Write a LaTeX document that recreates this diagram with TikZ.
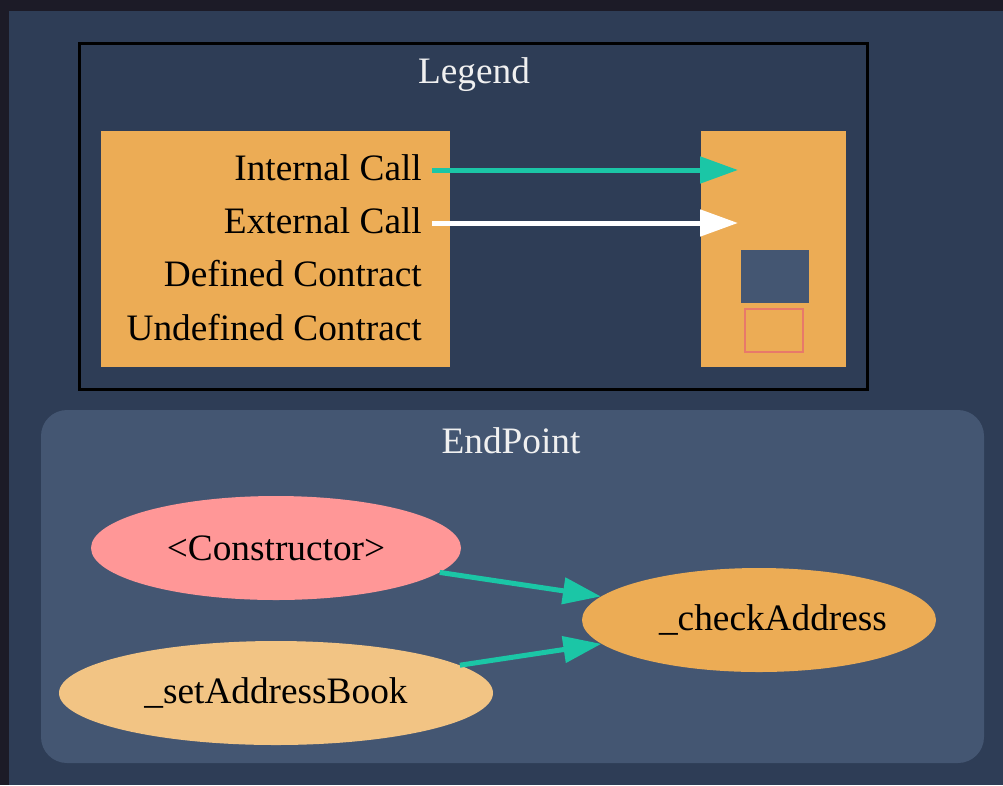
\documentclass[tikz,border=0pt]{standalone}
\usepackage{fontspec}
\setmainfont{Liberation Serif}
\usetikzlibrary{arrows.meta,shapes.geometric}
\definecolor{pagebg}{HTML}{1C1B27}
\definecolor{graphbg}{HTML}{2E3D56}
\definecolor{clusterbg}{HTML}{445672}
\definecolor{fnorange}{HTML}{ECAC55}
\definecolor{fnpink}{HTML}{FF9797}
\definecolor{fnlight}{HTML}{F2C484}
\definecolor{callteal}{HTML}{1BC6A6}
\definecolor{undefred}{HTML}{E8796A}
\tikzset{
  fn/.style={ellipse,minimum height=104pt,inner sep=0pt,
    font=\fontsize{37.3}{44}\selectfont},
  keytext/.style={anchor=east,inner sep=0pt,font=\fontsize{37.3}{44}\selectfont},
  title/.style={text=white!94!black,font=\fontsize{37.3}{44}\selectfont},
  intcall/.style={draw=callteal,line width=5pt,-{Triangle[length=38pt,width=26pt]}},
  extcall/.style={draw=white,line width=5pt,-{Triangle[length=38pt,width=26pt]}}
}
\begin{document}
\begin{tikzpicture}[x=1pt,y=-1pt]
\fill[pagebg](0,0)rectangle(1003,785);
\fill[graphbg](9,11)rectangle(1003,785);
\useasboundingbox(0,0)rectangle(1003,785);
\draw[line width=3pt,fill=graphbg](79,43)rectangle(867,389);
\node[title](legend)at(474,75){Legend};
\fill[fnorange](101,131)rectangle(450,367);
\fill[fnorange](701,131)rectangle(846,367);
\node[keytext](int)at(422,168){Internal Call};
\node[keytext](ext)at(422,221){External Call};
\node[keytext](def)at(422,274){Defined Contract};
\node[keytext](undef)at(422,328){Undefined Contract};
\coordinate(intin)at(738,170);
\coordinate(extin)at(738,223);
\draw[intcall]([xshift=10pt]int.east|-intin)--(intin);
\draw[extcall]([xshift=10pt]ext.east|-extin)--(extin);
\fill[clusterbg](741,250)rectangle(809,303);
\draw[undefred,line width=2.5pt](745,309)rectangle(803,352);
\fill[clusterbg,rounded corners=26pt](41,410)rectangle(984,763);
\node[title](endpoint)at(511,441){EndPoint};
\node[fn,fill=fnpink,minimum width=370pt](ctor)at(276,548){<Constructor>};
\node[fn,fill=fnlight,minimum width=434pt](setbook)at(276,693){\_setAddressBook};
\node[fn,fill=fnorange,minimum width=354pt,inner xsep=-6pt](check)at(759,620){\hspace*{28pt}\_checkAddress};
\draw[intcall](ctor)--(check);
\draw[intcall](setbook)--(check);
\end{tikzpicture}
\end{document}
